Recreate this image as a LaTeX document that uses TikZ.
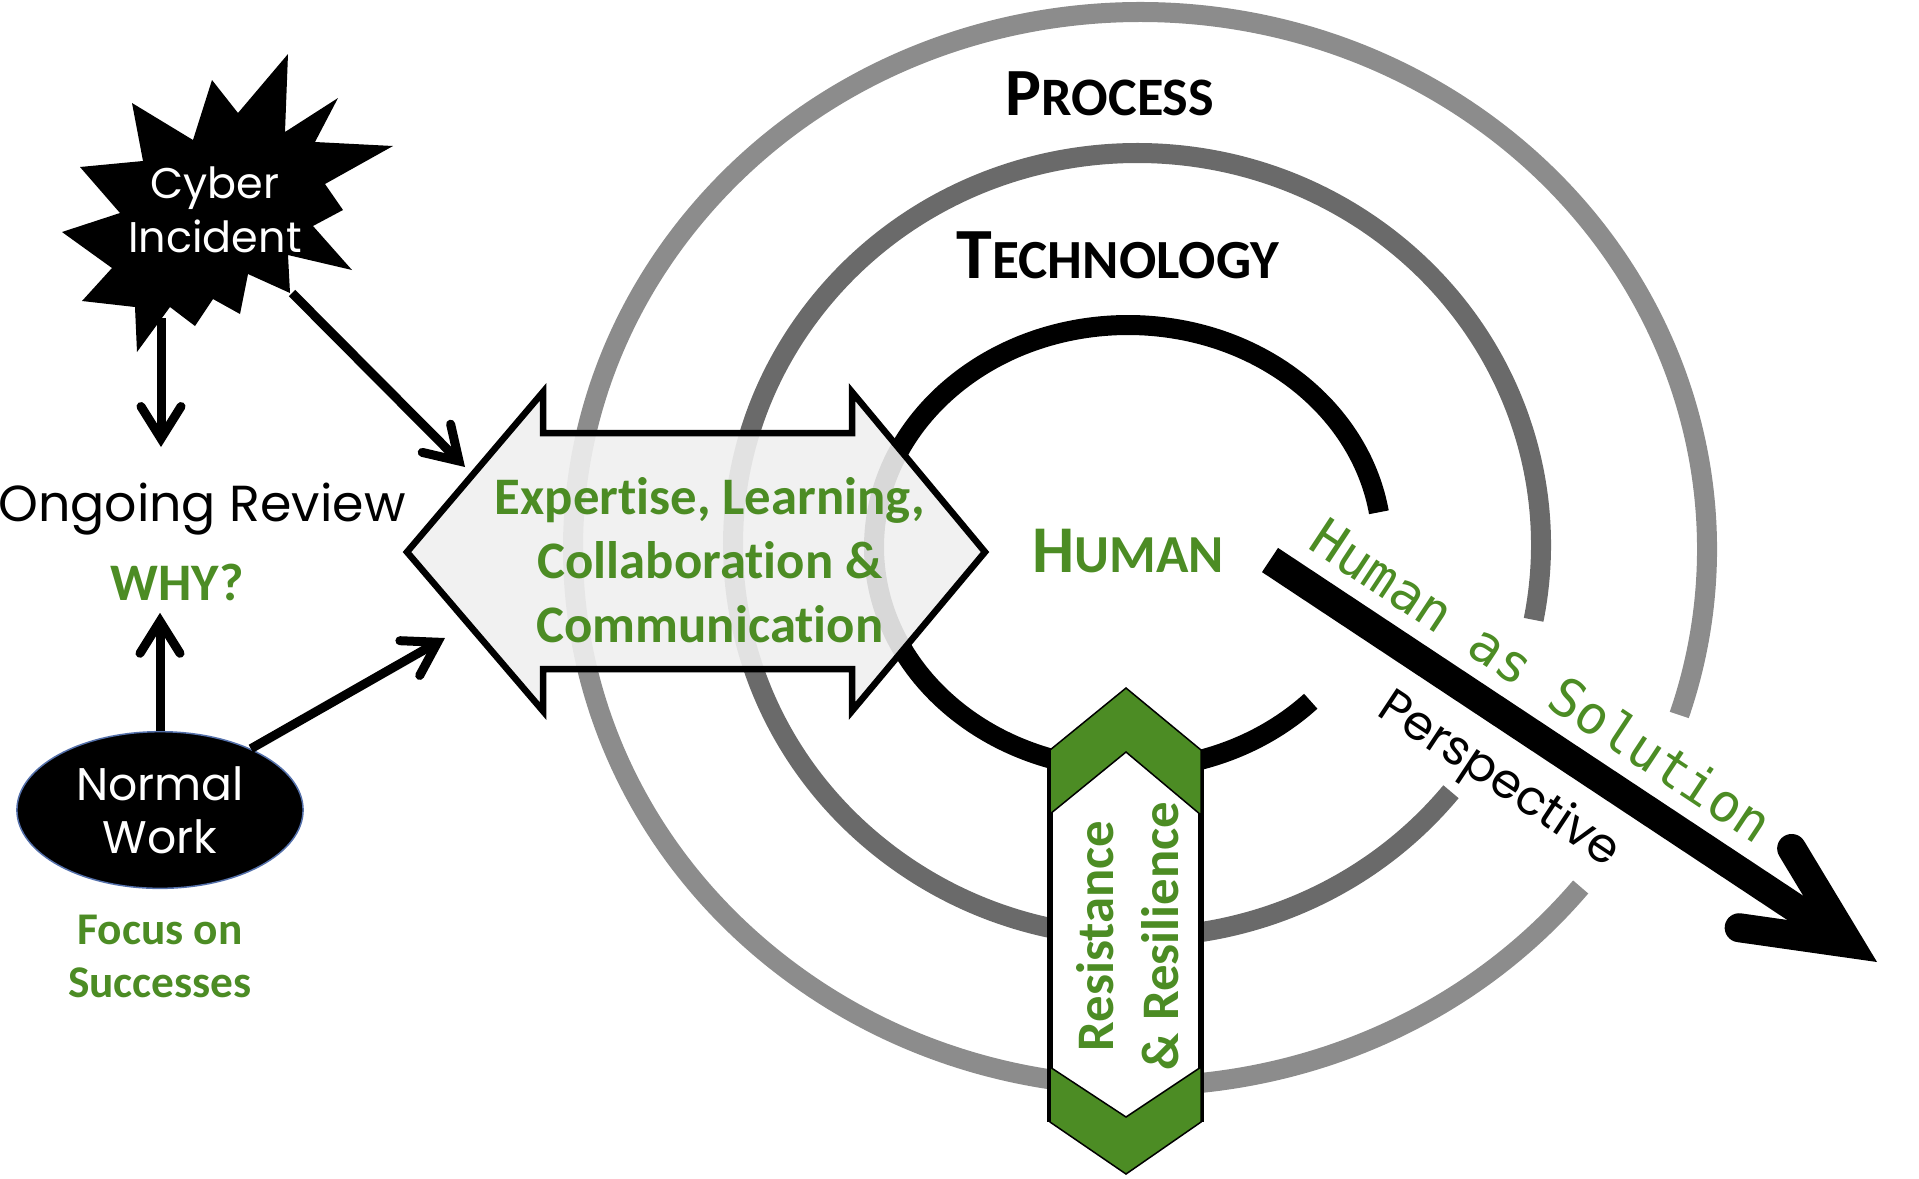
\documentclass[tikz,border=0pt]{standalone}
\usepackage{fontspec}
\setmainfont{Carlito}[Ligatures=NoCommon]
\newfontfamily\geofont{Poppins}
\newfontfamily\typefont{DejaVu Sans Mono}
\usetikzlibrary{arrows.meta,shapes.geometric}
\definecolor{leafgreen}{RGB}{76,140,36}
\definecolor{outergray}{RGB}{140,140,140}
\definecolor{innergray}{RGB}{106,106,106}
\definecolor{rimblue}{RGB}{84,112,170}
\newcommand{\fsz}[2]{\fontsize{#1}{#2}\selectfont}

\begin{document}
\begin{tikzpicture}[x=0.01cm,y=-0.01cm,
  ring/.style={line width=0.2cm},
  flow/.style={line width=0.09cm,-{Straight Barb[length=0.32cm,width=0.4cm,line cap=round,line join=miter]}},
  bigflow/.style={line width=0.29cm,-{Straight Barb[length=1cm,width=0.95cm,line cap=round,line join=miter]}},
  greentext/.style={text=leafgreen,font=\bfseries,align=center}]
\useasboundingbox (0,0) rectangle (1919,1178);

\draw[ring,outergray] (1140,549) ++(39:567 and 537) arc[start angle=39,end angle=378,x radius=567,y radius=537];
\draw[ring,innergray] (1137,545) ++(39:404 and 392) arc[start angle=39,end angle=371,x radius=404,y radius=392];
\draw[ring,black] (1128,547) ++(44:254 and 222) arc[start angle=44,end angle=351,x radius=254,y radius=222];

\node[font=\bfseries\fsz{19.2}{22},anchor=base] (process) at (1110,115) {P{\fsz{15.4}{17}ROCESS}};
\node[font=\bfseries\fsz{20.5}{23},anchor=base] (technology) at (1118,278) {T{\fsz{15.7}{17}ECHNOLOGY}};
\node[greentext,font=\bfseries\fsz{19}{22},anchor=base] (human) at (1128,572) {H{\fsz{15.2}{16}UMAN}};

\draw[line width=0.065cm,fill=gray!12,fill opacity=0.9,line join=miter] (407,552) -- (543,392) -- (543,433) -- (852,433) -- (852,392) -- (985,552) -- (852,711) -- (852,669) -- (543,669) -- (543,711) -- cycle;
\node[greentext,font=\bfseries\fsz{15}{18.2}] (skills) at (710,560) {Expertise, Learning,\\Collaboration \&\\Communication};

\fill[white] (1050,750) rectangle (1201,1122);
\draw[line width=0.055cm] (1050,750) -- (1050,1122) (1201,750) -- (1201,1122);
\draw[line width=0.015cm,fill=leafgreen] (1050,750) -- (1126,688) -- (1201,750) -- (1201,815) -- (1126,752) -- (1050,814) -- cycle;
\draw[line width=0.015cm,fill=leafgreen] (1050,1067) -- (1126,1117) -- (1201,1067) -- (1201,1122) -- (1126,1174) -- (1050,1122) -- cycle;
\node[greentext,font=\bfseries\fsz{15}{18.5},rotate=90] (resilience) at (1128,936) {Resistance\\\& Resilience};

\fill (288,54) -- (285,132) -- (338,98) -- (315,142) -- (393,146) -- (325,184) -- (343,210) -- (313,226) -- (352,270) -- (288,255) -- (290,293) -- (248,274) -- (240,314) -- (213,299) -- (195,326) -- (170,307) -- (137,352) -- (135,307) -- (82,301) -- (112,268) -- (62,232) -- (120,213) -- (80,167) -- (143,161) -- (132,103) -- (193,140) -- (212,80) -- (238,113) -- cycle;
\node[text=white,align=center,font=\geofont\fsz{12.2}{15.4}] (cyber) at (215,210) {Cyber\\Incident};

\node[font=\geofont\fsz{14.4}{17},anchor=base] (review) at (202,521) {Ongoing Review};
\node[greentext,font=\bfseries\fsz{15}{18},anchor=base] (why) at (177,600) {WHY?};
\node[ellipse,fill=black,draw=rimblue,line width=0.015cm,minimum width=2.86cm,minimum height=1.56cm,text=white,align=center,font=\geofont\fsz{13}{15.1}] (normal) at (160,810) {Normal\\Work};
\node[greentext,font=\bfseries\fsz{12.9}{15.1}] (focus) at (160,956) {Focus on\\Successes};

\coordinate (burstfoot) at (161,318);
\coordinate (burstspike) at (292,293);
\coordinate (skillsup) at (465,467);
\coordinate (skillsdown) at (445,638);
\draw[flow,shorten >=0.23cm] (burstfoot) -- (burstfoot |- review.north);
\draw[flow] (burstspike) -- (skillsup);
\draw[flow] (normal.north) -- (normal.north |- why.south);
\draw[flow] (normal.34) -- (skillsdown);

\coordinate (hsstart) at (1270,560);
\coordinate (hstip) at (1877,962);
\draw[bigflow] (hsstart) -- (hstip);
\node[text=leafgreen,font=\typefont\fsz{15}{18},rotate=-33.5] (solution) at (1542,680) {Human as Solution};
\node[font=\geofont\fsz{13.7}{16},rotate=-33.5] (perspective) at (1498,781) {Perspective};
\end{tikzpicture}
\end{document}
